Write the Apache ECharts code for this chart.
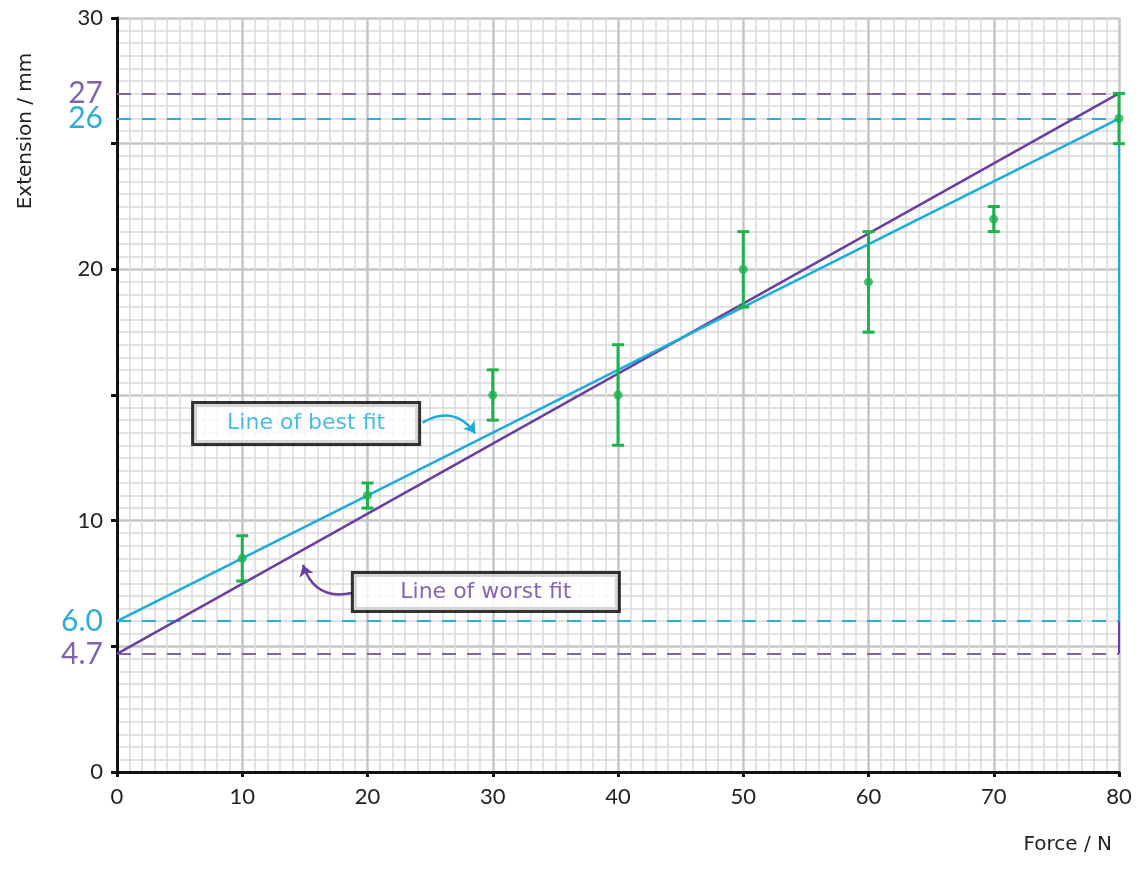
<!DOCTYPE html>
<html>
<head>
<meta charset="utf-8">
<script src="https://cdn.jsdelivr.net/npm/echarts@6/dist/echarts.min.js"></script>
<style>html,body{margin:0;padding:0;background:#fff}#c{width:1144px;height:871px}</style>
</head>
<body>
<div id="c"></div>
<script>
// ---- data ----
const forces = [10, 20, 30, 40, 50, 60, 70, 80];
const extensions = [8.5, 11, 15, 15, 20, 19.5, 22, 26];
const errors = [0.9, 0.5, 1, 2, 1.5, 2, 0.5, 1];
const bestFit = [[0, 6.0], [80, 26]];
const worstFit = [[0, 4.7], [80, 27]];
const bestLabels = ['6.0', '26'];
const worstLabels = ['4.7', '27'];
const xTicks = [0, 10, 20, 30, 40, 50, 60, 70, 80];
const yTickLabels = [0, 10, 20, 30];
const bestNote = {text: 'Line of best fit', at: [15.1, 13.87], arrow: [[24.4, 13.9], [28.6, 13.48]]};
const worstNote = {text: 'Line of worst fit', at: [29.45, 7.16], arrow: [[18.75, 7.12], [14.85, 8.24]]};

const CYAN = '#19acdf', PURPLE = '#6a3f9f', CYAN_D = '#2aaed6', PURPLE_D = '#8163ac', GREEN = '#1cb24c';
const FONT = 'Lato, "Noto Sans", sans-serif';
const WIDE = '"DejaVu Sans", Lato, sans-serif';

const chart = echarts.init(document.getElementById('c'));

function hLine(v, x0, x1, color, text, fs) {
  return [{coord: [x0, v], lineStyle: {color: color}, label: {show: !!text, formatter: text || '', position: 'start', distance: 14, color: color, fontSize: fs || 30, fontFamily: FONT}}, {coord: [x1, v]}];
}
function vLine(x, v0, v1, color) {
  return [{coord: [x, v0], lineStyle: {color: color, type: 'solid'}, label: {show: false}}, {coord: [x, v1]}];
}

const option = {
  backgroundColor: '#fff',
  animation: false,
  grid: {left: 117, right: 25, top: 18, bottom: 99},
  xAxis: {
    type: 'value', min: 0, max: 80, interval: 10,
    axisLine: {lineStyle: {color: '#111', width: 3}},
    axisTick: {show: true, length: 5, lineStyle: {color: '#111', width: 3}},
    axisLabel: {color: '#222', fontSize: 22, margin: 14, fontFamily: FONT,
      formatter: v => xTicks.indexOf(v) >= 0 ? String(v) : ''},
    splitLine: {show: true, lineStyle: {color: '#c6c6c6', width: 2.5}},
    minorTick: {show: false, splitNumber: 10},
    minorSplitLine: {show: true, lineStyle: {color: '#dadada', width: 1.5}}
  },
  yAxis: {
    type: 'value', min: 0, max: 30, interval: 5,
    axisLine: {show: true, lineStyle: {color: '#111', width: 3}},
    axisTick: {show: true, length: 6, lineStyle: {color: '#111', width: 3}},
    axisLabel: {color: '#222', fontSize: 22, margin: 14, fontFamily: FONT,
      formatter: v => yTickLabels.indexOf(v) >= 0 ? String(v) : ''},
    splitLine: {show: true, lineStyle: {color: '#c6c6c6', width: 2.5}},
    minorTick: {show: false, splitNumber: 10},
    minorSplitLine: {show: true, lineStyle: {color: '#dadada', width: 1.5}}
  },
  graphic: [
    {type: 'text', x: 26, y: 131, rotation: Math.PI / 2, style: {text: 'Extension / mm', fill: '#222', font: '20px ' + WIDE, align: 'center', verticalAlign: 'middle'}},
    {type: 'text', x: 1112, y: 845, style: {text: 'Force / N', fill: '#222', font: '20px ' + WIDE, align: 'right', verticalAlign: 'middle'}}
  ],
  series: [
    {
      type: 'line', name: 'worst', data: worstFit, showSymbol: false, symbol: 'none', z: 3,
      lineStyle: {color: PURPLE, width: 2.5},
      markLine: {
        silent: true, symbol: 'none', z: 2,
        lineStyle: {type: [14, 11], width: 2, color: PURPLE_D},
        data: [
          hLine(worstFit[1][1], 0, 80, PURPLE_D, worstLabels[1], 30),
          hLine(worstFit[0][1], 0, 80, PURPLE_D, worstLabels[0], 30),
          vLine(80, worstFit[1][1], worstFit[0][1], PURPLE)
        ]
      }
    },
    {
      type: 'line', name: 'best', data: bestFit, showSymbol: false, symbol: 'none', z: 4,
      lineStyle: {color: CYAN, width: 2.5},
      markLine: {
        silent: true, symbol: 'none', z: 2,
        lineStyle: {type: [14, 11], width: 2, color: CYAN_D},
        data: [
          hLine(bestFit[1][1], 0, 80, CYAN_D, bestLabels[1], 30),
          hLine(bestFit[0][1], 0, 80, CYAN_D, bestLabels[0], 30),
          vLine(80, bestFit[1][1], bestFit[0][1], CYAN)
        ]
      }
    },
    {
      type: 'custom', name: 'err', z: 6, clip: false,
      data: forces.map((f, i) => [f, extensions[i], errors[i]]),
      renderItem: function (params, api) {
        const x = api.value(0), y = api.value(1), e = api.value(2);
        const t = api.coord([x, y + e]), b = api.coord([x, y - e]);
        const w = 6;
        const st = {stroke: GREEN, lineWidth: 3};
        return {type: 'group', children: [
          {type: 'line', shape: {x1: t[0], y1: t[1], x2: b[0], y2: b[1]}, style: st},
          {type: 'line', shape: {x1: t[0] - w, y1: t[1], x2: t[0] + w, y2: t[1]}, style: st},
          {type: 'line', shape: {x1: b[0] - w, y1: b[1], x2: b[0] + w, y2: b[1]}, style: st}
        ]};
      }
    },
    {
      type: 'scatter', name: 'pts', z: 7, symbolSize: 9,
      itemStyle: {color: GREEN},
      data: forces.map((f, i) => [f, extensions[i]])
    },
    {
      type: 'lines', coordinateSystem: 'cartesian2d', z: 8, polyline: false,
      symbol: ['none', 'arrow'], symbolSize: 11,
      data: [
        {coords: bestNote.arrow, lineStyle: {color: CYAN, width: 2.5, opacity: 1, curveness: 0.45}},
        {coords: worstNote.arrow, lineStyle: {color: PURPLE, width: 2.5, opacity: 1, curveness: 0.45}}
      ]
    },
    {
      type: 'scatter', name: 'notes', z: 9, symbolSize: 0, silent: true,
      data: [
        {value: bestNote.at, label: {formatter: bestNote.text, color: CYAN, width: 208, height: 26, padding: [7, 8, 6, 8]}},
        {value: worstNote.at, label: {formatter: worstNote.text, color: PURPLE, width: 246, height: 24, padding: [7, 9, 5, 9]}}
      ],
      label: {show: true, position: 'inside', fontSize: 22, fontFamily: WIDE, align: 'center', verticalAlign: 'middle',
        backgroundColor: '#fff', borderColor: '#000', borderWidth: 3, borderRadius: 0, textBorderWidth: 0}
    }
  ]
};
chart.setOption(option);
</script>
</body>
</html>
